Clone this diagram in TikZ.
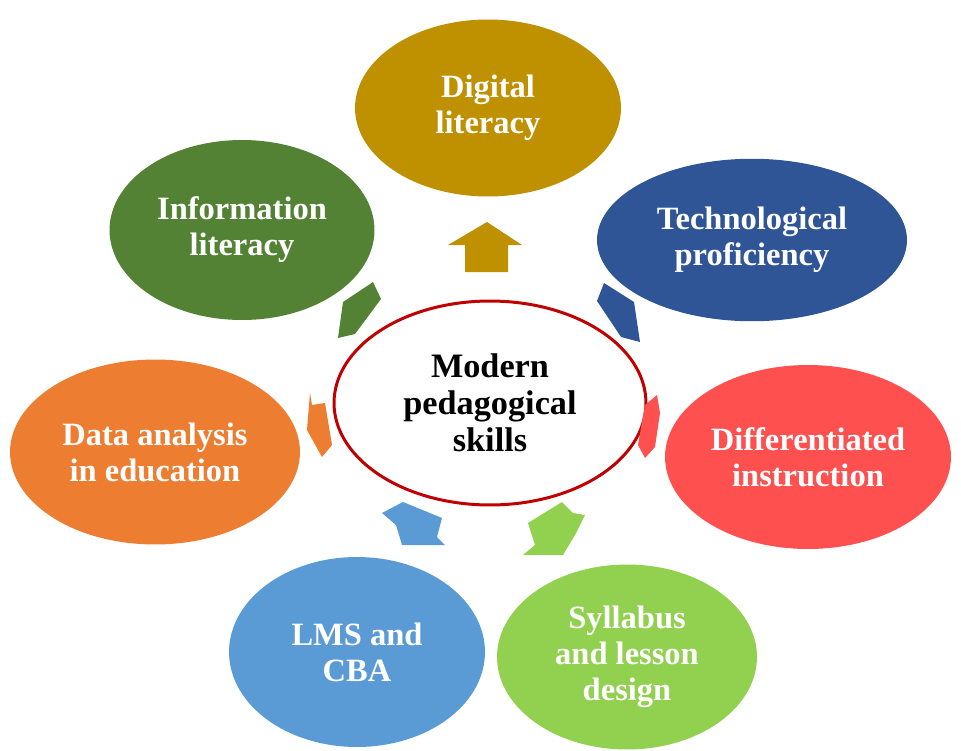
\documentclass[tikz,border=0pt]{standalone}
\usepackage{fontspec}
\setmainfont{Liberation Serif}
\usetikzlibrary{shapes.geometric}
\definecolor{cgold}{HTML}{BF9000}
\definecolor{cgreen}{HTML}{548235}
\definecolor{cdblue}{HTML}{2F5597}
\definecolor{corange}{HTML}{ED7D31}
\definecolor{cred}{HTML}{FF5050}
\definecolor{clblue}{HTML}{5B9BD5}
\definecolor{clgreen}{HTML}{92D050}
\definecolor{cborder}{HTML}{C00000}
\tikzset{
  bub/.style={ellipse, inner sep=0pt, text=white, align=center,
    font=\bfseries\fontsize{18.5}{20.5}\selectfont},
  blockarrow/.style={draw=none}
}
\begin{document}
\begin{tikzpicture}[x=0.02cm,y=-0.02cm]
\useasboundingbox (0,0) rectangle (961,751);
\fill[white] (0,0) rectangle (961,751);
% outer bubbles
\node[bub, fill=cgold, minimum width=5.32cm, minimum height=3.54cm] (dig) at (488,108) {Digital\\literacy};
\node[bub, fill=cgreen, minimum width=5.3cm, minimum height=3.6cm] (inf) at (242,230) {Information\\literacy};
\node[bub, fill=cdblue, minimum width=6.2cm, minimum height=3.25cm] (tec) at (752,240) {Technological\\proficiency};
\node[bub, fill=corange, minimum width=5.8cm, minimum height=3.7cm] (dat) at (155,452) {Data analysis\\in education};
\node[bub, fill=cred, minimum width=5.72cm, minimum height=3.68cm] (dif) at (808,457) {Differentiated\\instruction};
\node[bub, fill=clblue, minimum width=5.12cm, minimum height=3.8cm] (lms) at (357,652) {LMS and\\CBA};
\node[bub, fill=clgreen, minimum width=5.2cm, minimum height=3.7cm] (syl) at (627,657) {Syllabus\\and lesson\\design};
% center
\node[ellipse, draw=cborder, line width=1.7pt, fill=white, minimum width=6.24cm, minimum height=4.08cm, inner sep=0pt, align=center,
  font=\bfseries\fontsize{19.5}{21}\selectfont] (ctr) at (490,403) {Modern\\pedagogical\\skills};
% block arrows
\fill[cgold] (465,272) -- (465,245) -- (448,245) -- (487,222) -- (522,245) -- (508,245) -- (508,272) -- cycle;
\fill[cgreen] (373,282) -- (381,299) -- (355,334) -- (338,338) -- (343,302) -- cycle;
\fill[cdblue] (604,283) -- (634,302) -- (640,342) -- (621,337) -- (597,301) -- cycle;
\fill[corange] (310,393) -- (312,405) -- (325,403) -- (332,445) -- (322,457) -- (307,430) -- cycle;
\fill[cred] (657,395) -- (660,413) -- (655,447) -- (645,458) -- (638,445) -- (645,405) -- cycle;
\fill[clblue] (382,513) -- (403,502) -- (442,518) -- (437,537) -- (445,545) -- (402,545) -- (396,525) -- cycle;
\fill[clgreen] (528,523) -- (562,502) -- (573,513) -- (585,515) -- (575,535) -- (563,555) -- (523,555) -- (535,545) -- cycle;
\end{tikzpicture}
\end{document}
